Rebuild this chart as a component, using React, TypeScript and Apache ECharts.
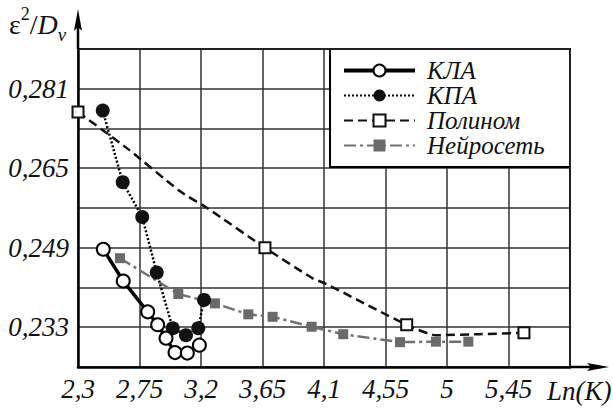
import React, { useEffect, useRef } from "react";
import * as echarts from "echarts";

// ---- data ----
const klaX = [2.485, 2.631, 2.81, 2.883, 2.944, 3.01, 3.1, 3.188];
const klaY = [0.2487, 0.2423, 0.2361, 0.2335, 0.2308, 0.2279, 0.2278, 0.2294];

const kpaX = [2.481, 2.627, 2.77, 2.876, 2.993, 3.09, 3.18, 3.222];
const kpaY = [0.2766, 0.2622, 0.2552, 0.244, 0.2328, 0.2314, 0.2328, 0.2385];

// polynomial curve; markers only at polyMarkX
const polyCurveX = [2.3, 2.66, 3.05, 3.25, 3.668, 4.02, 4.11, 4.705, 4.92, 5.24, 5.563];
const polyCurveY = [0.2763, 0.269, 0.2603, 0.2569, 0.249, 0.2428, 0.2418, 0.2335, 0.2314, 0.2316, 0.2319];
const polyMarkX = [2.3, 3.668, 4.705, 5.563];

const nnX = [2.607, 3.034, 3.302, 3.546, 3.724, 4.01, 4.241, 4.656, 4.919, 5.156];
const nnY = [0.2469, 0.2397, 0.2378, 0.2356, 0.2351, 0.2331, 0.2316, 0.23, 0.2301, 0.2301];

const seriesNames = ["КЛА", "КПА", "Полином", "Нейросеть"];

const xMin = 2.3;
const xMax = 5.9;
const xStep = 0.45;
const yMin = 0.225;
const yMax = 0.289;
const yStep = 0.008;

const FONT = "Liberation Serif";

const pairs = (xs: number[], ys: number[]) => xs.map((x, i) => [x, ys[i]]);

export default function App() {
  const ref = useRef<HTMLDivElement>(null);
  useEffect(() => {
    if (!ref.current) return;
    const chart = echarts.init(ref.current, null, { renderer: "svg" });

    const polyData = polyCurveX.map((x, i) =>
      polyMarkX.includes(x)
        ? { value: [x, polyCurveY[i]] }
        : { value: [x, polyCurveY[i]], symbol: "none" }
    );

    const option: any = {
      animation: false,
      backgroundColor: "#fff",
      textStyle: { fontFamily: FONT },
      grid: { left: 78, right: 43, top: 49, bottom: 41 },
      xAxis: {
        type: "value",
        min: xMin,
        max: xMax,
        interval: xStep,
        axisLine: { show: true, lineStyle: { color: "#000", width: 2.5 } },
        axisTick: { show: false },
        splitLine: { show: true, lineStyle: { color: "#333", width: 1.5 } },
        axisLabel: {
          color: "#111",
          fontFamily: FONT,
          fontStyle: "italic",
          fontSize: 27,
          margin: 8,
          formatter: (v: number) =>
            v > xMax - 0.01 ? "" : String(Number(v.toFixed(2))).replace(".", ","),
        },
      },
      yAxis: {
        type: "value",
        min: yMin,
        max: yMax,
        interval: yStep,
        axisLine: { show: true, lineStyle: { color: "#000", width: 2.5 } },
        axisTick: { show: false },
        splitLine: { show: true, lineStyle: { color: "#333", width: 1.5 } },
        axisLabel: {
          color: "#111",
          fontFamily: FONT,
          fontStyle: "italic",
          fontSize: 27,
          margin: 9,
          formatter: (v: number, idx: number) =>
            idx % 2 === 1 ? v.toFixed(3).replace(".", ",") : "",
        },
      },
      legend: {
        data: [
          { name: seriesNames[0], lineStyle: { width: 4 } },
          { name: seriesNames[1] },
          { name: seriesNames[2] },
          { name: seriesNames[3] },
        ],
        orient: "vertical",
        left: 342,
        top: 58,
        itemWidth: 71,
        itemHeight: 15,
        itemGap: 0,
        selectedMode: false,
        padding: 0,
        textStyle: {
          fontFamily: FONT,
          fontStyle: "italic",
          fontSize: 25,
          lineHeight: 24,
          color: "#111",
          padding: [0, 0, 0, 7],
        },
      },
      graphic: [
        {
          type: "rect",
          z: 3,
          shape: { x: 330, y: 49, width: 240, height: 118 },
          style: { fill: "#fff", stroke: "#000", lineWidth: 2 },
        },
        // top / right frame
        { type: "line", z: 3, shape: { x1: 78, y1: 49, x2: 570, y2: 49 }, style: { stroke: "#222", lineWidth: 2 } },
        { type: "line", z: 3, shape: { x1: 570, y1: 49, x2: 570, y2: 367 }, style: { stroke: "#222", lineWidth: 2 } },
        // axis extensions + arrows
        { type: "line", z: 3, shape: { x1: 570, y1: 367, x2: 596, y2: 367 }, style: { stroke: "#000", lineWidth: 2.5 } },
        {
          type: "polygon",
          z: 3,
          shape: { points: [[609, 367], [587, 363], [591, 367], [587, 371]] },
          style: { fill: "#000" },
        },
        { type: "line", z: 3, shape: { x1: 78, y1: 49, x2: 78, y2: 22 }, style: { stroke: "#000", lineWidth: 2.5 } },
        {
          type: "polygon",
          z: 3,
          shape: { points: [[78, 9], [74, 31], [78, 27], [82, 31]] },
          style: { fill: "#000" },
        },
        // y axis name ε²/D_v
        {
          type: "text",
          z: 3,
          x: 9,
          y: 5,
          style: {
            text: "{e|ε}{sup|2}{n|/}{d|D}{sub|v}",
            textVerticalAlign: "top",
            fill: "#111",
            rich: {
              e: { fontFamily: FONT, fontSize: 28, lineHeight: 39, verticalAlign: "middle" },
              sup: { fontFamily: FONT, fontSize: 18, lineHeight: 18, verticalAlign: "top" },
              n: { fontFamily: FONT, fontSize: 28, lineHeight: 39, verticalAlign: "middle" },
              d: { fontFamily: FONT, fontStyle: "italic", fontSize: 28, lineHeight: 39, verticalAlign: "middle" },
              sub: { fontFamily: FONT, fontStyle: "italic", fontSize: 19, lineHeight: 19, verticalAlign: "bottom" },
            },
          },
        },
        // x axis name
        { type: "text", z: 3, x: 547, y: 391, style: { text: "Ln(K)", fontFamily: FONT, fontStyle: "italic", fontSize: 27, fill: "#111", textVerticalAlign: "middle" } },
      ],
      series: [
        {
          name: "Полином",
          type: "line",
          data: polyData,
          smooth: 0.2,
          symbol: "rect",
          symbolSize: 11,
          lineStyle: { color: "#111", width: 2.5, type: [9, 5] },
          itemStyle: { color: "#fff", borderColor: "#111", borderWidth: 2 },
          z: 2,
        },
        {
          name: "Нейросеть",
          type: "line",
          data: pairs(nnX, nnY),
          symbol: "rect",
          symbolSize: 10,
          lineStyle: { color: "#707070", width: 2.5, type: [12, 4, 3, 4] },
          itemStyle: { color: "#6a6a6a" },
          z: 2,
        },
        {
          name: "КПА",
          type: "line",
          data: pairs(kpaX, kpaY),
          symbol: "circle",
          symbolSize: 14,
          lineStyle: { color: "#000", width: 2.5, type: [2, 2] },
          itemStyle: { color: "#111" },
          z: 2,
        },
        {
          name: "КЛА",
          type: "line",
          data: pairs(klaX, klaY),
          symbol: "circle",
          symbolSize: 13,
          lineStyle: { color: "#000", width: 3.5 },
          itemStyle: { color: "#fff", borderColor: "#000", borderWidth: 2 },
          z: 2,
        },
      ],
    };
    chart.setOption(option);
    return () => chart.dispose();
  }, []);
  return <div ref={ref} style={{ width: 613, height: 408, position: "absolute", left: 0, top: 0 }} />;
}
